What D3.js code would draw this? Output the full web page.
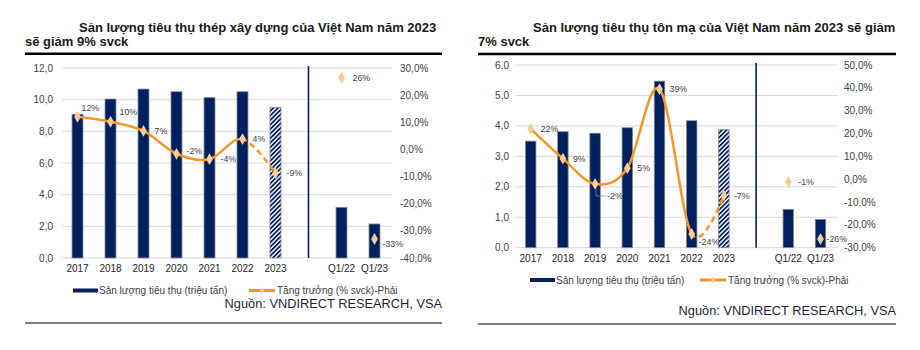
<!DOCTYPE html>
<html>
<head>
<meta charset="utf-8">
<script src="https://cdn.jsdelivr.net/npm/d3@7"></script>
<style>
  body { margin: 0; background: #fff; }
  svg { font-family: "Liberation Sans", Arial, sans-serif; }
</style>
</head>
<body>
<svg id="chart" width="920" height="350"></svg>
<script>
// categories
const years = ["2017", "2018", "2019", "2020", "2021", "2022", "2023"];
const quarters = ["Q1/22", "Q1/23"];

// steel (thep xay dung)
const steelVolume = [9.08, 10.04, 10.67, 10.5, 10.13, 10.5, 9.52];
const steelGrowth = [12.0, 10.2, 6.8, -1.6, -3.6, 3.8, -8.8];
const steelQVolume = [3.2, 2.15];
const steelQGrowth = [26.4, -33.0];
const steelLeftTicks = [0, 2, 4, 6, 8, 10, 12];
const steelRightTicks = [-40, -30, -20, -10, 0, 10, 20, 30];

// coated steel (ton ma)
const coatedVolume = [3.50, 3.81, 3.76, 3.94, 5.47, 4.17, 3.88];
const coatedGrowth = [22.0, 9.0, -2.1, 4.8, 39.4, -24.0, -7.2];
const coatedQVolume = [1.26, 0.93];
const coatedQGrowth = [-1.1, -26.2];
const coatedLeftTicks = [0, 1, 2, 3, 4, 5, 6];
const coatedRightTicks = [-30, -20, -10, 0, 10, 20, 30, 40, 50];

const navy = "#002060", orange = "#F7962B", peach = "#FBCB96", tickCol = "#404040";

let svg = d3.select("#chart");
let defs = svg.append("defs");
defs.append("pattern")
  .attr("id", "hatch")
  .attr("patternUnits", "userSpaceOnUse")
  .attr("width", 3.2).attr("height", 3.2)
  .attr("patternTransform", "rotate(45)")
  .call(p => {
    p.append("rect").attr("width", 3.2).attr("height", 3.2).attr("fill", "#fff");
    p.append("rect").attr("width", 1.8).attr("height", 3.2).attr("fill", navy);
  });

function fmtComma(v, digits) {
  return v.toFixed(digits).replace(".", ",");
}

function drawChart(g, cfg) {
  let cats = years.concat(["gap"], quarters);
  let x = d3.scalePoint().domain(cats).range(cfg.xRange).padding(0.5);
  let yL = d3.scaleLinear().domain(d3.extent(cfg.leftTicks)).range([cfg.bottom, cfg.top]);
  let yR = d3.scaleLinear().domain(d3.extent(cfg.rightTicks)).range([cfg.bottom, cfg.top]);

  // title
  g.append("text").attr("x", cfg.title1X).attr("y", cfg.titleY)
    .attr("font-size", 13).attr("font-weight", "bold").attr("fill", "#1a1a1a")
    .text(cfg.title1);
  g.append("text").attr("x", cfg.ruleX[0]).attr("y", cfg.titleY + 14)
    .attr("font-size", 13).attr("font-weight", "bold").attr("fill", "#1a1a1a")
    .text(cfg.title2);
  g.append("line")
    .attr("x1", cfg.ruleX[0]).attr("x2", cfg.ruleX[1])
    .attr("y1", cfg.ruleY).attr("y2", cfg.ruleY)
    .attr("stroke", "#000").attr("stroke-width", 2.5);

  // grid
  g.append("g").selectAll("line")
    .data(cfg.leftTicks)
    .join("line")
    .attr("x1", cfg.xRange[0] + 1).attr("x2", cfg.xRange[1] + 1)
    .attr("y1", d => yL(d)).attr("y2", d => yL(d))
    .attr("stroke", "#d9d9d9").attr("stroke-width", 1);

  // left axis labels
  g.append("g").selectAll("text")
    .data(cfg.leftTicks)
    .join("text")
    .attr("x", cfg.leftLabelX).attr("y", d => yL(d))
    .attr("dy", "0.35em").attr("text-anchor", "end")
    .attr("font-size", 10).attr("fill", tickCol)
    .text(d => fmtComma(d, 1));

  // right axis labels
  g.append("g").selectAll("text")
    .data(cfg.rightTicks)
    .join("text")
    .attr("x", cfg.rightLabelX).attr("y", d => yR(d))
    .attr("dy", "0.35em").attr("text-anchor", "start")
    .attr("font-size", 10).attr("fill", tickCol)
    .text(d => fmtComma(d, 1) + "%");

  // bars
  let bars = years.map((c, i) => ({cat: c, v: cfg.volume[i], hatch: i === years.length - 1}))
    .concat(quarters.map((c, i) => ({cat: c, v: cfg.qVolume[i], hatch: false})));
  g.append("g").selectAll("rect")
    .data(bars)
    .join("rect")
    .attr("x", d => x(d.cat) - cfg.barW / 2)
    .attr("width", cfg.barW)
    .attr("y", d => yL(d.v))
    .attr("height", d => yL(0) - yL(d.v))
    .attr("fill", d => d.hatch ? "url(#hatch)" : navy)
    .attr("stroke", "#8c8c8c").attr("stroke-width", 0.8);

  // separator
  g.append("line")
    .attr("x1", x("gap")).attr("x2", x("gap"))
    .attr("y1", cfg.top - 2).attr("y2", cfg.bottom)
    .attr("stroke", navy).attr("stroke-width", 1.6);

  // x labels
  g.append("g").selectAll("text")
    .data(years.concat(quarters))
    .join("text")
    .attr("x", d => x(d)).attr("y", cfg.bottom + 10.5)
    .attr("dy", "0.35em").attr("text-anchor", "middle")
    .attr("font-size", 10).attr("fill", "#262626")
    .text(d => d);

  // growth line: solid up to 2022, dashed 2022-2023
  let pts = years.map((c, i) => [x(c), yR(cfg.growth[i])]);
  let line = d3.line().curve(d3.curveCardinal.tension(0));
  let splitX = x("2022");
  let clipA = cfg.id + "-solid", clipB = cfg.id + "-dash";
  defs.append("clipPath").attr("id", clipA).append("rect")
    .attr("x", 0).attr("y", 0).attr("width", splitX).attr("height", 350);
  defs.append("clipPath").attr("id", clipB).append("rect")
    .attr("x", splitX).attr("y", 0).attr("width", 920 - splitX).attr("height", 350);
  g.append("path").attr("d", line(pts)).attr("clip-path", `url(#${clipA})`)
    .attr("fill", "none").attr("stroke", orange).attr("stroke-width", 2.5);
  g.append("path").attr("d", line(pts)).attr("clip-path", `url(#${clipB})`)
    .attr("fill", "none").attr("stroke", orange).attr("stroke-width", 2.5)
    .attr("stroke-dasharray", "6,4");

  let marks = years.map((c, i) => ({cat: c, v: cfg.growth[i], i: i}))
    .concat(quarters.map((c, i) => ({cat: c, v: cfg.qGrowth[i], i: years.length + i})));
  let diamond = d3.symbol().type(d3.symbolDiamond).size(40);
  g.append("g").selectAll("path")
    .data(marks)
    .join("path")
    .attr("transform", d => `translate(${x(d.cat)},${yR(d.v)})`)
    .attr("d", diamond)
    .attr("fill", peach);

  // data labels
  g.append("g").selectAll("text")
    .data(marks)
    .join("text")
    .attr("x", d => x(d.cat) + ((cfg.labelOff[d.i] || [9, 0])[0]))
    .attr("y", d => yR(d.v) + ((cfg.labelOff[d.i] || [9, 0])[1]))
    .attr("dy", "0.35em")
    .attr("font-size", 8.8).attr("fill", tickCol)
    .text(d => Math.round(d.v) + "%");

  if (cfg.leader != null) {
    let d = marks[cfg.leader];
    let px = x(d.cat), py = yR(d.v);
    let off = cfg.labelOff[cfg.leader];
    g.append("path")
      .attr("d", `M${px + 1},${py + 4}V${py + off[1]}H${px + off[0] - 2}`)
      .attr("fill", "none").attr("stroke", "#7f7f7f").attr("stroke-width", 0.8);
  }

  // legend
  let lg = g.append("g").attr("transform", `translate(0,${cfg.legendY})`);
  lg.append("rect").attr("x", cfg.legendX[0]).attr("y", -2)
    .attr("width", 25).attr("height", 4).attr("fill", navy);
  lg.append("text").attr("x", cfg.legendX[0] + 26).attr("dy", "0.35em")
    .attr("font-size", 10).attr("fill", tickCol)
    .text("Sản lượng tiêu thụ (triệu tấn)");
  lg.append("line").attr("x1", cfg.legendX[1]).attr("x2", cfg.legendX[1] + 26)
    .attr("stroke", orange).attr("stroke-width", 3);
  lg.append("path").attr("transform", `translate(${cfg.legendX[1] + 13},0)`)
    .attr("d", d3.symbol().type(d3.symbolDiamond).size(14)).attr("fill", peach);
  lg.append("text").attr("x", cfg.legendX[1] + 28).attr("dy", "0.35em")
    .attr("font-size", 10).attr("fill", tickCol)
    .text("Tăng trưởng (% svck)-Phải");

  // source
  g.append("text").attr("x", cfg.ruleX[1]).attr("y", cfg.sourceY)
    .attr("text-anchor", "end").attr("font-size", 12.8).attr("fill", "#1f1f3a")
    .text("Nguồn: VNDIRECT RESEARCH, VSA");
  g.append("line")
    .attr("x1", cfg.ruleX[0]).attr("x2", cfg.ruleX[1])
    .attr("y1", cfg.footY).attr("y2", cfg.footY)
    .attr("stroke", "#000").attr("stroke-width", 1.2);
}

drawChart(svg.append("g"), {
  id: "steel",
  title1: "Sản lượng tiêu thụ thép xây dựng của Việt Nam năm 2023",
  title2: "sẽ giảm 9% svck",
  title1X: 79, titleY: 32, ruleX: [25, 442], ruleY: 53.7,
  xRange: [61, 391], top: 68, bottom: 258, barW: 11,
  leftTicks: steelLeftTicks, rightTicks: steelRightTicks,
  leftLabelX: 53, rightLabelX: 400,
  volume: steelVolume, qVolume: steelQVolume,
  growth: steelGrowth, qGrowth: steelQGrowth,
  labelOff: {0: [4, -9], 1: [9, -10], 2: [11, 0], 3: [10, -3], 4: [11, 0], 5: [10, 0], 6: [11, 0], 7: [11, 0], 8: [8, 5]},
  leader: null,
  legendX: [73, 249], legendY: 290.5, sourceY: 308, footY: 323
});

drawChart(svg.append("g"), {
  id: "coated",
  title1: "Sản lượng tiêu thụ tôn mạ của Việt Nam năm 2023 sẽ giảm",
  title2: "7% svck",
  title1X: 533, titleY: 31.5, ruleX: [478, 896], ruleY: 54,
  xRange: [514.6, 836.6], top: 65, bottom: 247.7, barW: 10.5,
  leftTicks: coatedLeftTicks, rightTicks: coatedRightTicks,
  leftLabelX: 509, rightLabelX: 844,
  volume: coatedVolume, qVolume: coatedQVolume,
  growth: coatedGrowth, qGrowth: coatedQGrowth,
  labelOff: {0: [10, 0], 1: [10, 0], 2: [12, 12], 3: [10, 0], 4: [10, 0], 5: [7, 8], 6: [10, 0], 7: [10, 0], 8: [6, 0]},
  leader: 2,
  legendX: [530, 700], legendY: 280, sourceY: 315, footY: 324
});
</script>
</body>
</html>
